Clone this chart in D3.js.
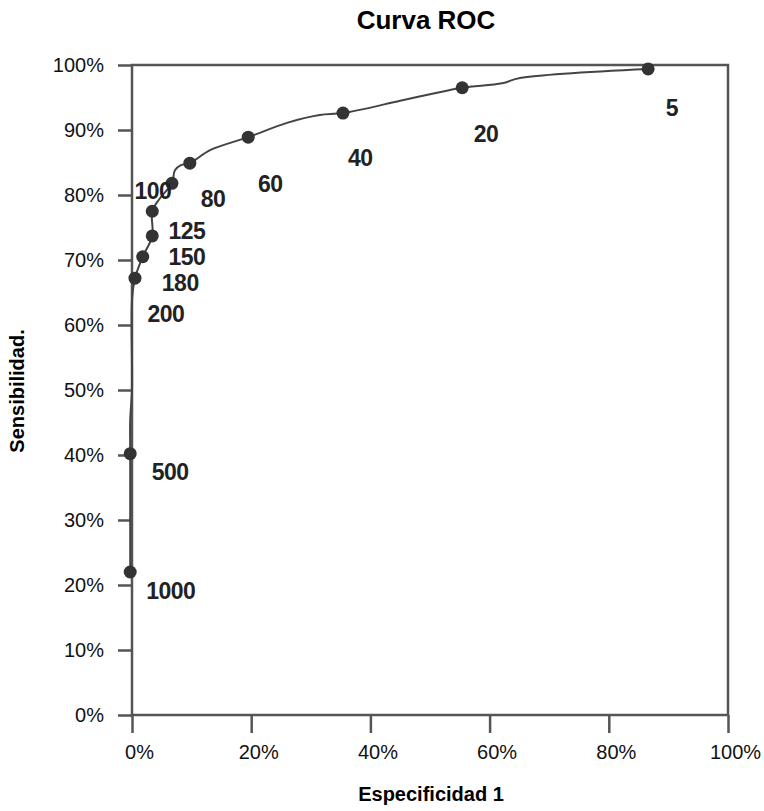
<!DOCTYPE html>
<html>
<head>
<meta charset="utf-8">
<script src="https://cdn.jsdelivr.net/npm/d3@7"></script>
<style>
  body { margin: 0; background: #fff; }
  svg text { font-family: "Liberation Sans", Arial, sans-serif; }
</style>
</head>
<body>
<div id="chart"></div>
<script>
// Curve trace (1 - especificidad, sensibilidad)
const curveX = [-0.003, -0.003, -0.003, 0.000, 0.000, 0.005, 0.018, 0.034, 0.034, 0.047, 0.067, 0.072, 0.082, 0.097,
                0.131, 0.195, 0.260, 0.315, 0.354, 0.450, 0.500, 0.554, 0.621, 0.651, 0.866];
const curveY = [0.220, 0.402, 0.454, 0.500, 0.638, 0.672, 0.705, 0.737, 0.775, 0.795, 0.818, 0.838, 0.846, 0.849,
                0.869, 0.889, 0.911, 0.923, 0.926, 0.945, 0.955, 0.965, 0.972, 0.980, 0.994];

// Cut-off points
const cutLabels = ['5', '20', '40', '60', '80', '100', '125', '150', '180', '200', '500', '1000'];
const cutX = [0.866, 0.554, 0.354, 0.195, 0.097, 0.067, 0.034, 0.034, 0.018, 0.005, -0.003, -0.003];
const cutY = [0.994, 0.965, 0.926, 0.889, 0.849, 0.818, 0.775, 0.737, 0.705, 0.672, 0.402, 0.220];
// where each label sits, in data units
const labelX = [0.906, 0.594, 0.383, 0.232, 0.136, 0.035, 0.092, 0.092, 0.081, 0.057, 0.064, 0.065];
const labelY = [0.934, 0.895, 0.858, 0.817, 0.795, 0.806, 0.745, 0.705, 0.665, 0.618, 0.375, 0.191];

const xTicks = [0, 0.2, 0.4, 0.6, 0.8, 1];
const yTicks = [0, 0.1, 0.2, 0.3, 0.4, 0.5, 0.6, 0.7, 0.8, 0.9, 1];

const width = 764, height = 811;
const margin = { top: 65, right: 36, bottom: 96, left: 132 };

const svg = d3.select('#chart').append('svg')
    .attr('width', width)
    .attr('height', height);

const x = d3.scaleLinear().domain([0, 1]).range([margin.left, width - margin.right]);
const y = d3.scaleLinear().domain([0, 1]).range([height - margin.bottom, margin.top]);

const axisColor = '#555';

// Left axis
const yAxis = svg.append('g')
    .attr('transform', `translate(${margin.left},0)`)
    .call(d3.axisLeft(y).tickValues(yTicks).tickFormat(d3.format('.0%')).tickSize(14).tickPadding(14));

// Bottom axis
const xAxis = svg.append('g')
    .attr('transform', `translate(0,${height - margin.bottom})`)
    .call(d3.axisBottom(x).tickValues(xTicks).tickFormat(d3.format('.0%')).tickSize(18).tickPadding(12));

[yAxis, xAxis].forEach(a => {
    a.select('.domain').remove();
    a.selectAll('.tick line').attr('stroke', axisColor).attr('stroke-width', 2.5);
    a.selectAll('.tick text').attr('fill', '#111').style('font-size', '20px');
});
// labels under the x axis sit a little right of their ticks
xAxis.selectAll('.tick text').attr('dx', 7);

// Frame
svg.append('rect')
    .attr('x', x(0))
    .attr('y', y(1))
    .attr('width', x(1) - x(0))
    .attr('height', y(0) - y(1))
    .attr('fill', 'none')
    .attr('stroke', axisColor)
    .attr('stroke-width', 2.5);

// Curve
const line = d3.line()
    .x(d => x(d[0]))
    .y(d => y(d[1]))
    .curve(d3.curveCatmullRom.alpha(0.5));

svg.append('path')
    .datum(curveX.map((v, i) => [v, curveY[i]]))
    .attr('d', line)
    .attr('fill', 'none')
    .attr('stroke', '#444')
    .attr('stroke-width', 2);

// Points
svg.selectAll('.cut')
    .data(cutLabels)
    .enter()
    .append('circle')
    .attr('class', 'cut')
    .attr('cx', (d, i) => x(cutX[i]))
    .attr('cy', (d, i) => y(cutY[i]))
    .attr('r', 6.5)
    .attr('fill', '#333');

// Point labels
svg.selectAll('.cut-label')
    .data(cutLabels)
    .enter()
    .append('text')
    .attr('class', 'cut-label')
    .attr('x', (d, i) => x(labelX[i]))
    .attr('y', (d, i) => y(labelY[i]))
    .attr('text-anchor', 'middle')
    .attr('dy', '0.36em')
    .attr('fill', '#222')
    .style('font-size', '23px')
    .style('font-weight', 'bold')
    .style('letter-spacing', '-0.5px')
    .text(d => d);

// Title
svg.append('text')
    .attr('x', 426)
    .attr('y', 29)
    .attr('text-anchor', 'middle')
    .style('font-size', '26px')
    .style('font-weight', 'bold')
    .text('Curva ROC');

// Axis titles
svg.append('text')
    .attr('x', 431)
    .attr('y', 801)
    .attr('text-anchor', 'middle')
    .style('font-size', '20px')
    .style('font-weight', 'bold')
    .text('Especificidad 1');

svg.append('text')
    .attr('transform', 'translate(24,391) rotate(-90)')
    .attr('text-anchor', 'middle')
    .style('font-size', '20px')
    .style('font-weight', 'bold')
    .text('Sensibilidad.');
</script>
</body>
</html>
